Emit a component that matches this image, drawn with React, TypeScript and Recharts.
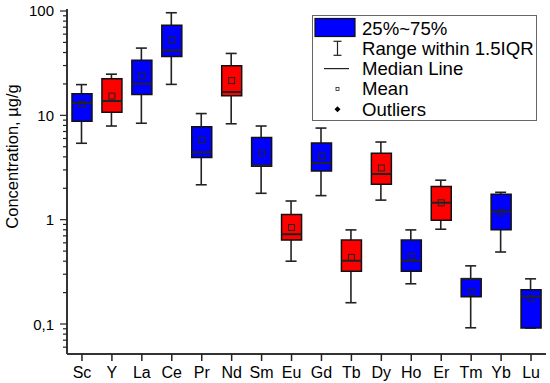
import { Bar, Cell, ComposedChart, Scatter, XAxis, YAxis } from "recharts";

const elements = ["Sc", "Y", "La", "Ce", "Pr", "Nd", "Sm", "Eu", "Gd", "Tb", "Dy", "Ho", "Er", "Tm", "Yb", "Lu"];
const redElements = ["Y", "Nd", "Eu", "Tb", "Dy", "Er"];

const whiskerLow = [5.4, 7.9, 8.4, 19.8, 2.16, 8.3, 1.79, 0.4, 1.7, 0.16, 1.54, 0.243, 0.81, 0.092, 0.49, 0.0916];
const q1 = [8.8, 10.7, 15.8, 36.7, 3.94, 15.4, 3.25, 0.637, 2.93, 0.321, 2.19, 0.321, 0.99, 0.183, 0.8, 0.0916];
const medians = [13.1, 13.7, 20.1, 41.9, 4.43, 16.7, 3.3, 0.726, 3.5, 0.404, 2.74, 0.404, 1.45, 0.271, 1.2, 0.183];
const q3 = [16.1, 22.4, 33.8, 73.1, 7.79, 29.9, 6.12, 1.12, 5.43, 0.637, 4.32, 0.637, 2.08, 0.271, 1.75, 0.213];
const whiskerHigh = [19.7, 24.8, 44.1, 96.2, 10.4, 39.2, 7.9, 1.51, 7.55, 0.798, 5.55, 0.798, 2.39, 0.361, 1.83, 0.271];
const means = [12.7, 15.3, 24.2, 53.0, 5.73, 21.5, 4.36, 0.842, 4.06, 0.435, 3.13, 0.445, 1.45, 0.205, 1.16, 0.175];

const majorTicks = [0.1, 1, 10, 100];
const majorLabels = ["0,1", "1", "10", "100"];
const minorTicks = [
  0.06, 0.07, 0.08, 0.09,
  0.2, 0.3, 0.4, 0.5, 0.6, 0.7, 0.8, 0.9,
  2, 3, 4, 5, 6, 7, 8, 9,
  20, 30, 40, 50, 60, 70, 80, 90,
];

const legendLabels = ["25%~75%", "Range within 1.5IQR", "Median Line", "Mean", "Outliers"];

const FONT = '"Liberation Sans", Arial, sans-serif';
const BLUE = "#0000ff";
const RED = "#ff0000";
const INK = "#222";

const rows = elements.map((name, i) => ({
  name,
  range: [whiskerLow[i], whiskerHigh[i]],
  box: [q1[i], q3[i]],
  median: medians[i],
  mean: means[i],
}));

function WhiskerShape(props: any) {
  const { x, y, width, height } = props;
  const cx = x + width / 2;
  return (
    <g stroke={INK} strokeWidth={1.6}>
      <line x1={cx} x2={cx} y1={y} y2={y + height} />
      <line x1={x} x2={x + width} y1={y} y2={y} />
      <line x1={x} x2={x + width} y1={y + height} y2={y + height} />
    </g>
  );
}

function MedianShape(props: any) {
  const { cx, cy } = props;
  return <line x1={cx - 10} x2={cx + 10} y1={cy} y2={cy} stroke={INK} strokeWidth={2} />;
}

function MeanShape(props: any) {
  const { cx, cy } = props;
  return <rect x={cx - 3} y={cy - 3} width={6} height={6} fill="none" stroke={INK} strokeWidth={1} />;
}

function YTick(props: any) {
  const { x, y, payload } = props;
  const idx = majorTicks.indexOf(payload.value);
  const major = idx >= 0;
  return (
    <g>
      <line x1={x - (major ? 7 : 4)} x2={x} y1={y} y2={y} stroke={INK} strokeWidth={1.2} />
      {major && (
        <text x={x - 13} y={y} textAnchor="end" dominantBaseline="central" fontSize={15} fontFamily={FONT} fill="#000">
          {majorLabels[idx]}
        </text>
      )}
    </g>
  );
}

function YLabel(props: any) {
  const { viewBox } = props;
  const cx = viewBox.x + 12;
  const cy = viewBox.y + viewBox.height / 2 - 25;
  return (
    <text
      x={cx}
      y={cy}
      transform={`rotate(-90 ${cx} ${cy})`}
      textAnchor="middle"
      dominantBaseline="central"
      fontSize={16.5}
      fontFamily={FONT}
      fill="#000"
    >
      Concentration, µg/g
    </text>
  );
}

function BoxLegend() {
  const rowY = (i: number) => 13 + i * 20.3;
  return (
    <svg width={225} height={106} style={{ position: "absolute", left: 312, top: 15 }}>
      <rect x={0.5} y={0.5} width={224} height={105} fill="#fff" stroke="#666" strokeWidth={1} />
      <rect x={3} y={3.5} width={40} height={18} fill={BLUE} stroke="#111" strokeWidth={1.2} />
      <g stroke={INK} strokeWidth={1.2}>
        <line x1={25.5} x2={25.5} y1={rowY(1) - 7} y2={rowY(1) + 7} />
        <line x1={21.5} x2={29.5} y1={rowY(1) - 7} y2={rowY(1) - 7} />
        <line x1={21.5} x2={29.5} y1={rowY(1) + 7} y2={rowY(1) + 7} />
        <line x1={12} x2={37} y1={rowY(2)} y2={rowY(2)} />
      </g>
      <rect x={24} y={rowY(3) - 1.5} width={3} height={3} fill="none" stroke={INK} strokeWidth={0.8} />
      <path d={`M25.5 ${rowY(4) - 3} l3 3 l-3 3 l-3 -3 z`} fill="#000" />
      {legendLabels.map((label, i) => (
        <text key={label} x={50} y={rowY(i)} dominantBaseline="central" fontSize={18.6} fontFamily={FONT} fill="#000">
          {label}
        </text>
      ))}
    </svg>
  );
}

export default function App() {
  return (
    <div style={{ position: "absolute", left: 0, top: 0, width: 550, height: 383, background: "#fff" }}>
      <ComposedChart width={550} height={383} data={rows} margin={{ top: 9, right: 4, bottom: 0, left: 0 }}>
        <XAxis
          xAxisId="main"
          dataKey="name"
          height={29}
          interval={0}
          tickSize={7}
          tickMargin={6}
          tickLine={{ stroke: INK, strokeWidth: 1.5 }}
          axisLine={{ stroke: "#333", strokeWidth: 2 }}
          tick={{ fill: "#000", fontSize: 16, fontFamily: FONT }}
        />
        <XAxis xAxisId="whisker" dataKey="name" hide />
        <XAxis
          xAxisId="top"
          dataKey="name"
          orientation="top"
          height={0}
          tick={false}
          tickLine={false}
          axisLine={{ stroke: "#555", strokeWidth: 2 }}
        />
        <YAxis
          yAxisId="left"
          type="number"
          scale="log"
          domain={[0.0516, 104.5]}
          allowDataOverflow
          ticks={[...minorTicks, ...majorTicks]}
          interval={0}
          width={67}
          tickSize={0}
          tickMargin={0}
          tickLine={false}
          tick={<YTick />}
          axisLine={{ stroke: "#333", strokeWidth: 2 }}
          label={<YLabel />}
        />
        <YAxis
          yAxisId="right"
          orientation="right"
          width={0}
          tick={false}
          tickLine={false}
          axisLine={{ stroke: "#555", strokeWidth: 2 }}
        />
        <Bar
          xAxisId="whisker"
          yAxisId="left"
          dataKey="range"
          barSize={11}
          shape={<WhiskerShape />}
          isAnimationActive={false}
        />
        <Bar
          xAxisId="main"
          yAxisId="left"
          dataKey="box"
          barSize={20}
          stroke="#111"
          strokeWidth={1.5}
          isAnimationActive={false}
        >
          {rows.map((r) => (
            <Cell key={r.name} fill={redElements.includes(r.name) ? RED : BLUE} />
          ))}
        </Bar>
        <Scatter
          xAxisId="main"
          yAxisId="left"
          dataKey="median"
          shape={<MedianShape />}
          isAnimationActive={false}
        />
        <Scatter
          xAxisId="main"
          yAxisId="left"
          dataKey="mean"
          shape={<MeanShape />}
          isAnimationActive={false}
        />
      </ComposedChart>
      <BoxLegend />
    </div>
  );
}
